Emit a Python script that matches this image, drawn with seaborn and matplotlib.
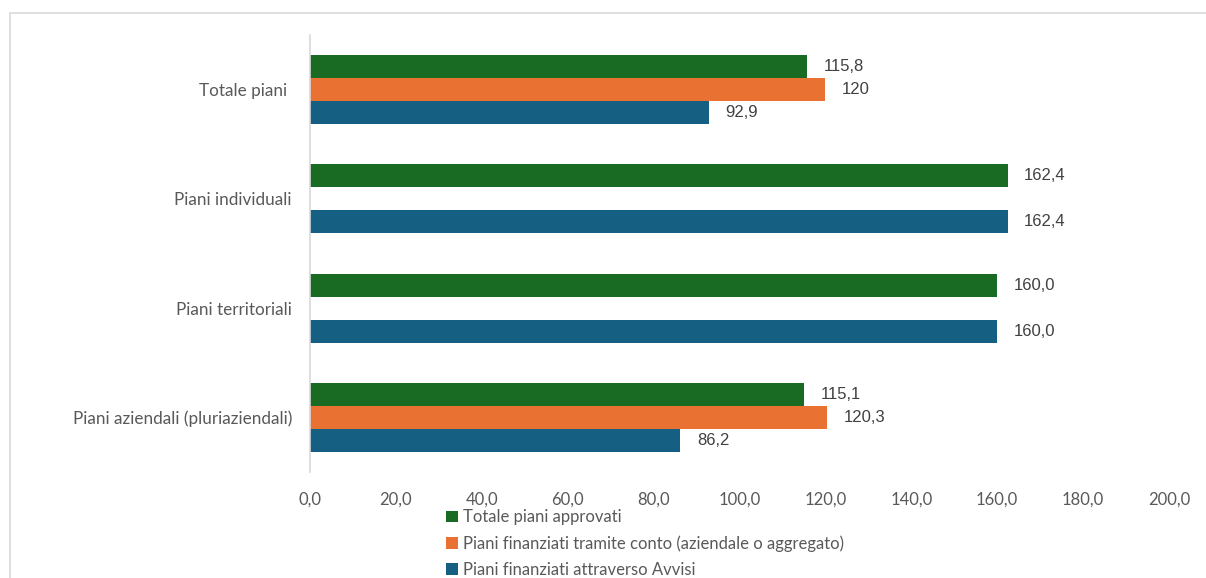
import pandas as pd
import matplotlib
matplotlib.use("Agg")
import matplotlib.pyplot as plt
import seaborn as sns
from matplotlib.patches import Rectangle

# data
categories = ["Totale piani ", "Piani individuali", "Piani territoriali",
              "Piani aziendali (pluriaziendali)"]
series = ["Totale piani approvati",
          "Piani finanziati tramite conto (aziendale o aggregato)",
          "Piani finanziati attraverso Avvisi"]
totale_approvati = [115.8, 162.4, 160.0, 115.1]
tramite_conto = [120.0, None, None, 120.3]
attraverso_avvisi = [92.9, 162.4, 160.0, 86.2]
value_labels = [["115,8", "162,4", "160,0", "115,1"],
                ["120", "", "", "120,3"],
                ["92,9", "162,4", "160,0", "86,2"]]
xticks = [0, 20, 40, 60, 80, 100, 120, 140, 160, 180, 200]

colors = ["#196B24", "#E97132", "#156082"]

rows = []
for s, vals in zip(series, [totale_approvati, tramite_conto, attraverso_avvisi]):
    for c, v in zip(categories, vals):
        rows.append({"cat": c, "serie": s, "val": v})
df = pd.DataFrame(rows)

sns.set_style("white")
plt.rcParams["font.family"] = ["Lato", "DejaVu Sans"]

fig = plt.figure(figsize=(12.06, 5.78), dpi=100)
ax = fig.add_axes([310 / 1206, 1 - 472 / 578, 859 / 1206, 437 / 578])

sns.barplot(data=df, y="cat", x="val", hue="serie", order=categories,
            hue_order=series, palette=colors, orient="h", width=0.63,
            saturation=1, errorbar=None, linewidth=0, ax=ax)

# value labels next to bars (bars with no value are dropped, so match by position)
for cont, labs in zip(ax.containers, value_labels):
    for bar in cont:
        w = bar.get_width()
        yc = bar.get_y() + bar.get_height() / 2
        lab = labs[int(round(yc))]
        if lab == "" or pd.isna(w):
            continue
        ax.annotate(lab, (w, yc), xytext=(12, 0), textcoords="offset points",
                    ha="left", va="center", fontsize=12, color="#404040",
                    family=["Liberation Sans", "DejaVu Sans"], stretch="normal")

ax.set_xlim(0, 200)
ax.set_ylim(3.5, -0.5)
ax.set_xticks(xticks)
ax.set_xticklabels([f"{t:.1f}".replace(".", ",") for t in xticks])
ax.set_xlabel("")
ax.set_ylabel("")
ax.tick_params(axis="x", length=0, pad=14, labelsize=12, colors="#595959")
ax.tick_params(axis="y", length=0, pad=13, labelsize=12.3, colors="#595959")
for side in ["top", "right", "bottom"]:
    ax.spines[side].set_visible(False)
ax.spines["left"].set_color("#D9D9D9")
ax.spines["left"].set_linewidth(1.2)

handles, labels = ax.get_legend_handles_labels()
ax.legend_.remove()
leg = fig.legend(handles, labels, loc="upper left",
                 bbox_to_anchor=(438 / 1206, 1 - 501 / 578), frameon=False,
                 fontsize=12, handlelength=0.7, handleheight=0.7,
                 handletextpad=0.3, labelspacing=0.6, borderpad=0)
for t in leg.get_texts():
    t.set_color("#595959")

# outer chart frame
fig.patches.append(Rectangle((10 / 1206, -0.05), 1.2, 1 - 13 / 578 + 0.05,
                             transform=fig.transFigure, fill=False,
                             edgecolor="#D9D9D9", linewidth=1.2))

fig.savefig("out.png", dpi=100)
